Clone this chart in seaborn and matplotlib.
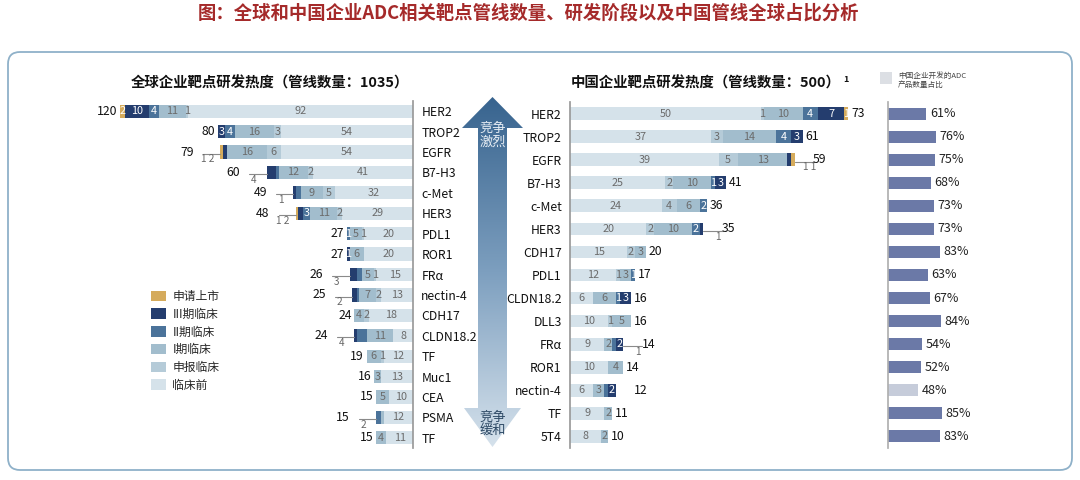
import numpy as np
import pandas as pd
import matplotlib.pyplot as plt
import seaborn as sns
from matplotlib.patches import FancyBboxPatch, PathPatch
from matplotlib.path import Path
from matplotlib.lines import Line2D
from matplotlib.colors import LinearSegmentedColormap
from matplotlib.patches import Patch

sns.set_theme(style="white")
plt.rcParams['font.family'] = ['Noto Sans CJK SC', 'DejaVu Sans']

# stages, outermost first
stages = ['申请上市', 'III期临床', 'II期临床', 'I期临床', '申报临床', '临床前']
colors = ['#d5ab5c', '#243d6e', '#4b739a', '#a2bdcd', '#b5cbd8', '#d5e2ea']

# global pipeline by target
g_targets = ['HER2', 'TROP2', 'EGFR', 'B7-H3', 'c-Met', 'HER3', 'PDL1', 'ROR1', 'FRα',
             'nectin-4', 'CDH17', 'CLDN18.2', 'TF', 'Muc1', 'CEA', 'PSMA', 'TF']
g_launch = [2, 0, 1, 0, 0, 1, 0, 0, 0, 0, 0, 0, 0, 0, 0, 0, 0]
g_p3 = [10, 3, 2, 4, 1, 2, 0, 1, 3, 2, 0, 1, 0, 0, 0, 0, 0]
g_p2 = [4, 4, 0, 1, 2, 3, 1, 0, 2, 1, 0, 4, 0, 0, 0, 2, 0]
g_p1 = [11, 16, 16, 12, 9, 11, 5, 6, 5, 7, 4, 11, 6, 3, 5, 1, 4]
g_ind = [1, 3, 6, 2, 5, 2, 1, 0, 1, 2, 2, 0, 1, 0, 0, 0, 0]
g_pre = [92, 54, 54, 41, 32, 29, 20, 20, 15, 13, 18, 8, 12, 13, 10, 12, 11]

# chinese pipeline by target
c_targets = ['HER2', 'TROP2', 'EGFR', 'B7-H3', 'c-Met', 'HER3', 'CDH17', 'PDL1',
             'CLDN18.2', 'DLL3', 'FRα', 'ROR1', 'nectin-4', 'TF', '5T4']
c_launch = [1, 0, 1, 0, 0, 0, 0, 0, 0, 0, 0, 0, 0, 0, 0]
c_p3 = [7, 3, 1, 3, 0, 1, 0, 0, 3, 0, 2, 0, 2, 0, 0]
c_p2 = [4, 4, 0, 1, 2, 2, 0, 1, 1, 0, 1, 0, 1, 0, 0]
c_p1 = [10, 14, 13, 10, 6, 10, 3, 3, 6, 5, 2, 4, 3, 2, 2]
c_ind = [1, 3, 5, 2, 4, 2, 2, 1, 0, 1, 0, 0, 0, 0, 0]
c_pre = [50, 37, 39, 25, 24, 20, 15, 12, 6, 10, 9, 10, 6, 9, 8]

# share of chinese products (%)
c_share = [61, 76, 75, 68, 73, 73, 83, 63, 67, 84, 54, 52, 48, 85, 83]

# small segments labelled outside: row -> (text, stages not labelled inside)
g_leader = {2: ('1 2', (0, 1)), 3: ('4', (1, 2)), 4: ('1', (1, 2)), 5: ('1 2', (0, 1)),
            8: ('3', (1, 2)), 9: ('2', (1, 2)), 11: ('4', (1, 2)), 15: ('2', (2, 3))}
c_leader = {2: ('1 1', (0, 1)), 5: ('1', (1,)), 10: ('1', (2,)), 12: ('', (2,))}

W, H = 1080, 480
fig = plt.figure(figsize=(10.8, 4.8), dpi=100)


def px_axes(x0, y0, x1, y1):
    return fig.add_axes([x0 / W, 1 - y1 / H, (x1 - x0) / W, (y1 - y0) / H])


# background layer in pixel coordinates
bg = px_axes(0, 0, W, H)
bg.set_xlim(0, W)
bg.set_ylim(H, 0)
bg.axis('off')

bg.add_patch(FancyBboxPatch((8, 52), 1064, 418, boxstyle='round,pad=0,rounding_size=12',
                            ec='#8fb1c9', fc='white', lw=1.3))
bg.text(528, 13, '图：全球和中国企业ADC相关靶点管线数量、研发阶段以及中国管线全球占比分析',
        ha='center', va='center', fontsize=13.2, fontweight='bold', color='#a52a2a')
bg.text(270, 83, '全球企业靶点研发热度（管线数量：1035）', ha='center', va='center',
        fontsize=10.4, fontweight='bold', color='#111111')
bg.text(706, 83, '中国企业靶点研发热度（管线数量：500）', ha='center', va='center',
        fontsize=10.4, fontweight='bold', color='#111111')
bg.text(843, 79, '1', ha='left', va='center', fontsize=6.5, fontweight='bold', color='#111111')

# gradient arrow
verts = [(492.5, 97), (523, 128), (507, 128), (507, 408), (521, 408), (492.5, 447),
         (464, 408), (478, 408), (478, 128), (462, 128), (492.5, 97)]
arrow = PathPatch(Path(verts, closed=True), fc='none', ec='none', transform=bg.transData)
bg.add_patch(arrow)
cmap = LinearSegmentedColormap.from_list('arr', ['#37638e', '#7d9fbf', '#d6e2ec'])
grad = np.linspace(0, 1, 256).reshape(-1, 1)
im = bg.imshow(grad, extent=(460, 525, 448, 96), aspect='auto', cmap=cmap, zorder=1)
im.set_clip_path(arrow)
bg.set_xlim(0, W)
bg.set_ylim(H, 0)
bg.text(492.5, 135, '竞争\n激烈', ha='center', va='center', fontsize=9.5, color='#e6edf4',
        linespacing=1.05, zorder=2)
bg.text(492.5, 424, '竞争\n缓和', ha='center', va='center', fontsize=9.5, color='#2e4a66',
        linespacing=1.05, zorder=2)

# legends
handles = [Patch(fc=c, ec='none') for c in colors]
fig.legend(handles, stages, loc='upper left', bbox_to_anchor=(151 / W, 1 - 290 / H),
           frameon=False, fontsize=8.5, handlelength=1.25, handleheight=1.0,
           labelspacing=0.4, handletextpad=0.55, borderpad=0, borderaxespad=0)
bg.add_patch(plt.Rectangle((880, 72), 12, 12, fc='#dcdfe4', ec='none'))
bg.text(898, 72, '中国企业开发的ADC\n产品数量占比', ha='left', va='top', fontsize=5.5,
        color='#444444', linespacing=1.2)

label_cols = ['white', 'white', 'white', '#6b6b6b', '#6b6b6b', '#6b6b6b']


def stacked(ax, vals, leaders, bw, sign, lead_len, lead_gap):
    n = len(vals[0])
    rows = np.arange(n)
    cum = np.zeros(n)
    spans = {}
    for k in [5, 4, 3, 2, 1, 0]:
        start = cum.copy()
        cum = cum + np.array(vals[k])
        spans[k] = (start, cum.copy())
    for k in range(6):
        sns.barplot(x=spans[k][1], y=rows, orient='h', color=colors[k], saturation=1,
                    width=bw, linewidth=0, errorbar=None, ax=ax)
    total = spans[0][1]
    for i in rows:
        text, hidden = leaders.get(i, (None, ()))
        for k in range(6):
            v = vals[k][i]
            if v == 0 or k in hidden:
                continue
            ax.text(spans[k][0][i] + v / 2, i, str(v), ha='center', va='center',
                    fontsize=7.8, color=label_cols[k])
        gap = 2
        if text is not None:
            gap = lead_gap
            if text:
                ax.add_line(Line2D([total[i], total[i] + lead_len], [i + 0.08, i + 0.08],
                                   color='#8a8a8a', lw=0.8, clip_on=False))
                ax.text(total[i] + lead_len * 0.75, i + 0.12, text, ha='center', va='top',
                        fontsize=7.2, color='#666666', clip_on=False)
        ax.annotate(str(int(total[i])), xy=(total[i], i), xytext=(sign * gap, 0),
                    textcoords='offset points', ha='right' if sign < 0 else 'left',
                    va='center', fontsize=8.8, fontweight='medium', color='#111111',
                    annotation_clip=False)
    ax.set_ylim(n - 0.5, -0.5)
    ax.set_xlabel('')
    ax.set_ylabel('')
    ax.set_xticks([])
    ax.tick_params(axis='y', length=0, pad=6, labelsize=8.8, labelcolor='#111111')
    for s in ax.spines.values():
        s.set_visible(False)


# global chart, bars grow to the left
axg = px_axes(120, 101, 413, 448)
stacked(axg, [g_launch, g_p3, g_p2, g_p1, g_ind, g_pre], g_leader, 0.65, -1, 7, 19)
axg.set_xlim(120, 0)
axg.yaxis.tick_right()
axg.set_yticks(range(len(g_targets)))
axg.set_yticklabels(g_targets, fontweight='medium')
axg.spines['right'].set_visible(True)
axg.spines['right'].set_color('#9a9a9a')

# chinese chart, bars grow to the right
axc = px_axes(570, 102, 875, 448)
stacked(axc, [c_launch, c_p3, c_p2, c_p1, c_ind, c_pre], c_leader, 0.55, 1, 5, 13)
axc.set_xlim(0, 80)
axc.set_yticks(range(len(c_targets)))
axc.set_yticklabels(c_targets, fontweight='medium')
axc.spines['left'].set_visible(True)
axc.spines['left'].set_color('#9a9a9a')

# share column
axs = px_axes(888, 102, 951, 448)
share_df = pd.DataFrame({'row': np.arange(len(c_share)), 'share': c_share})
share_df['hl'] = np.where(share_df['share'] < 50, 'low', 'high')
sns.barplot(data=share_df, x='share', y='row', hue='hl', orient='h',
            palette={'high': '#6b79a7', 'low': '#c6ccda'}, saturation=1, width=0.52,
            linewidth=0, errorbar=None, legend=False, dodge=False, ax=axs)
for i, v in enumerate(c_share):
    axs.annotate(f'{v}%', xy=(v, i), xytext=(2.5, 0), textcoords='offset points',
                 ha='left', va='center', fontsize=9, fontweight='medium', color='#222222',
                 annotation_clip=False)
axs.set_xlim(0, 100)
axs.set_ylim(len(c_share) - 0.5, -0.5)
axs.set_xticks([])
axs.set_yticks([])
axs.set_xlabel('')
axs.set_ylabel('')
for s in axs.spines.values():
    s.set_visible(False)
axs.spines['left'].set_visible(True)
axs.spines['left'].set_color('#b0b0b0')

fig.savefig('out.png', dpi=100)
